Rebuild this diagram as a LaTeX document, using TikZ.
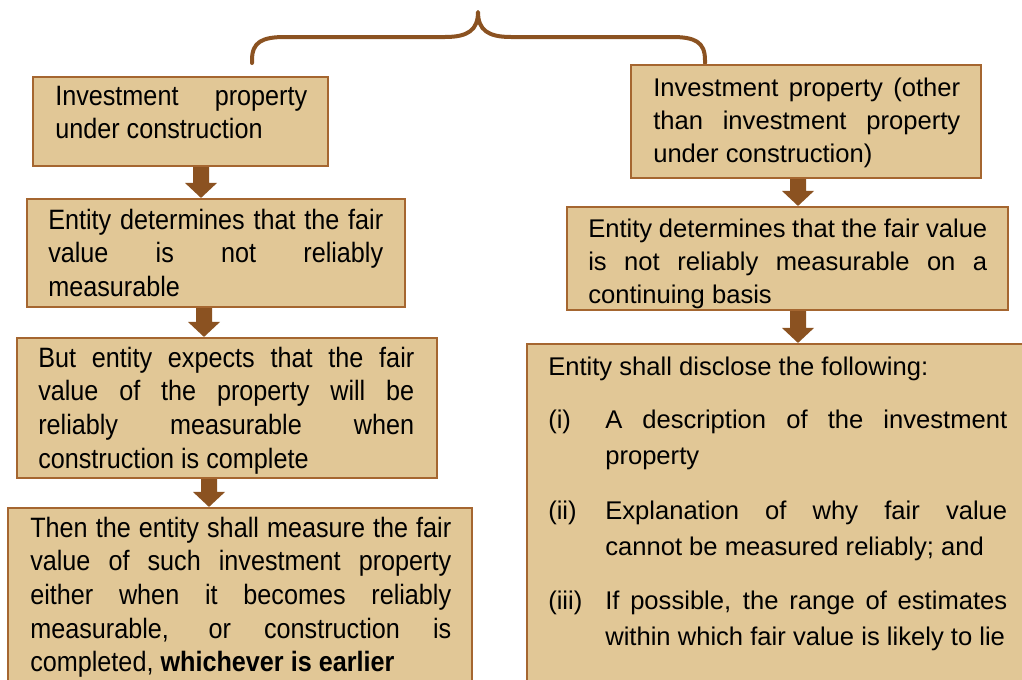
\documentclass[tikz,border=0pt]{standalone}
\usepackage{fontspec}
\setmainfont{Liberation Sans}
\newfontfamily\leftfont[FakeStretch=0.9]{Liberation Sans}
\usetikzlibrary{fit,calc}
\definecolor{boxfill}{RGB}{225,199,150}
\definecolor{boxline}{RGB}{165,102,48}
\definecolor{arrowc}{RGB}{139,82,33}
\tolerance=10000
\hbadness=10000
\hyphenpenalty=10000
\tikzset{
  box/.style={draw=boxline, fill=boxfill, line width=1.6pt, inner sep=0pt, rectangle},
  ltext/.style={anchor=base west, inner sep=0pt, align=justify,
    font=\leftfont\fontsize{21pt}{25.3pt}\selectfont},
  rtext/.style={anchor=base west, inner sep=0pt, align=justify,
    font=\fontsize{19.2pt}{24.9pt}\selectfont},
  itext/.style={anchor=base west, inner sep=0pt, align=justify,
    font=\fontsize{19.2pt}{27.4pt}\selectfont},
  bracec/.style={draw=arrowc, line width=3pt, line cap=round, line join=round},
}
\newcommand\blockarrow[3]{%
  \coordinate (ax) at (#3,0);
  \fill[arrowc] let \p1=(#1.south -| ax), \p2=(#2.north -| ax) in
    (\x1-6pt,\y1) -- (\x1+6pt,\y1) -- (\x1+6pt,\y2+11.25pt) -- (\x1+12pt,\y2+11.25pt)
    -- (\x1,\y2) -- (\x1-12pt,\y2+11.25pt) -- (\x1-6pt,\y2+11.25pt) -- cycle;}
\begin{document}
\begin{tikzpicture}[x=0.75pt,y=-0.75pt]
\useasboundingbox (0,0) rectangle (1022,679);
\fill[white] (0,0) rectangle (1022,679);
\clip (0,0) rectangle (1022,679);

% brace
\draw[bracec] (252,63) -- (252,60) .. controls (252,42) and (262,37) .. (285,37)
  -- (445,37) .. controls (468,37) and (478,30) .. (478,12)
  .. controls (478,30) and (488,37) .. (511,37)
  -- (672,37) .. controls (695,37) and (705,42) .. (705,60) -- (705,63);

% left column boxes
\node[box, fit={(33,77) (328,166)}] (L1) {};
\node[box, fit={(27,199) (405,307)}] (L2) {};
\node[box, fit={(17,338) (437,478)}] (L3) {};
\node[box, fit={(8,508) (472,700)}] (L4) {};
% right column boxes
\node[box, fit={(631,65) (981,178)}] (R1) {};
\node[box, fit={(567,207) (1008,310)}] (R2) {};
\node[box, fit={(527,344) (1040,700)}] (R3) {};

% texts
\node[ltext, text width=189pt] (tL1) at (55,105) {Investment property\linebreak under construction};
\node[ltext, text width=251.25pt] (tL2) at (48,229) {Entity determines that the fair\linebreak value is not reliably\linebreak measurable};
\node[ltext, text width=282pt] (tL3) at (38,367) {But entity expects that the fair\linebreak value of the property will be\linebreak reliably measurable when\linebreak construction is complete};
\node[ltext, text width=315.75pt] (tL4) at (30,537) {Then the entity shall measure the fair\linebreak value of such investment property\linebreak either when it becomes reliably\linebreak measurable, or construction is\linebreak completed, \textbf{whichever is earlier}};

\node[rtext, text width=230.25pt] (tR1) at (653,96) {Investment property (other\linebreak than investment property\linebreak under construction)};
\node[rtext, text width=299.25pt] (tR2) at (588,237) {Entity determines that the fair value\linebreak is not reliably measurable on a\linebreak continuing basis};
\node[rtext, anchor=base west] (tR3) at (548,375) {Entity shall disclose the following:};
\node[rtext, anchor=base west] (n1) at (548,428) {(i)};
\node[itext, text width=301.5pt] (i1) at (605,428) {A description of the investment\linebreak property};
\node[rtext, anchor=base west] (n2) at (548,519) {(ii)};
\node[itext, text width=301.5pt] (i2) at (605,519) {Explanation of why fair value\linebreak cannot be measured reliably; and};
\node[rtext, anchor=base west] (n3) at (548,609) {(iii)};
\node[itext, text width=301.5pt] (i3) at (605,609) {If possible, the range of estimates\linebreak within which fair value is likely to lie};

% arrows
\blockarrow{L1}{L2}{201}
\blockarrow{L2}{L3}{204}
\blockarrow{L3}{L4}{209}
\blockarrow{R1}{R2}{798}
\blockarrow{R2}{R3}{798}
\end{tikzpicture}
\end{document}
